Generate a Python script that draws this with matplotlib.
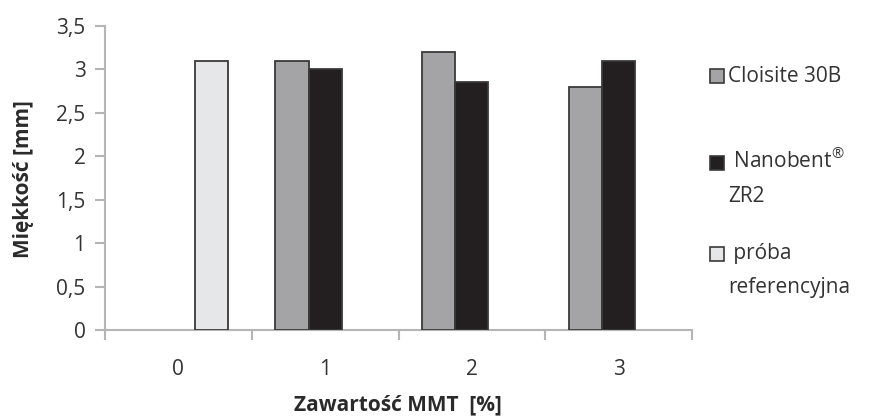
import numpy as np
import matplotlib
matplotlib.use("Agg")
import matplotlib.pyplot as plt
from matplotlib.patches import Rectangle

plt.rcParams['font.family'] = ['Open Sans', 'DejaVu Sans']
plt.rcParams['mathtext.fontset'] = 'custom'
plt.rcParams['mathtext.rm'] = 'Open Sans'

# data
categories = ["0", "1", "2", "3"]
cloisite = [np.nan, 3.1, 3.2, 2.8]
nanobent = [np.nan, 3.0, 2.85, 3.1]
referencja = [3.1, np.nan, np.nan, np.nan]

series_names = ["Cloisite 30B", " Nanobent$^{\\mathrm{®}}$\nZR2", " próba\nreferencyjna"]
colors = ["#a4a4a7", "#231f20", "#e6e7e8"]

fig = plt.figure(figsize=(8.7, 4.17), dpi=100)
ax = fig.add_axes([105/870, 87/417, 587/870, 304/417])

x = np.arange(len(categories))
w = 0.226
for i, vals in enumerate([cloisite, nanobent, referencja]):
    ax.bar(x + (i - 1) * w, vals, width=w, color=colors[i],
           edgecolor="#3a3a3a", linewidth=1.3, zorder=3)

ax.set_xlim(-0.5, len(categories) - 0.5)
ax.set_ylim(0, 3.5)
ax.set_yticks(np.arange(0, 3.51, 0.5))
ax.set_yticklabels(["0", "0,5", "1", "1,5", "2", "2,5", "3", "3,5"])
ax.set_xticks(x)
ax.set_xticklabels(categories)
ax.set_xticks(np.arange(-0.5, len(categories)), minor=True)

gray = "#b5b5b5"
fs = 15
for s in ["top", "right"]:
    ax.spines[s].set_visible(False)
for s in ["left", "bottom"]:
    ax.spines[s].set_color(gray)
    ax.spines[s].set_linewidth(1.5)
ax.tick_params(axis="y", length=7, width=1.5, color=gray, pad=7,
               labelsize=fs, labelcolor="#333333")
ax.tick_params(axis="x", which="major", length=0, pad=21,
               labelsize=fs, labelcolor="#333333")
ax.tick_params(axis="x", which="minor", length=7, width=1.5, color=gray)

fig.text(24/870, 1 - 179/417, "Miękkość [mm]", rotation=90, ha="center",
         va="center", fontsize=fs, fontweight="bold", color="#2a2a2a")
fig.text(398/870, 1 - 405/417, "Zawartość MMT  [%]", ha="center",
         va="center", fontsize=fs, fontweight="bold", color="#2a2a2a")

# legend drawn by hand so the square sits by the first line
leg_y = [76, 163, 254]
for i, name in enumerate(series_names):
    yc = leg_y[i]
    fig.add_artist(Rectangle((710/870, 1 - (yc + 7)/417), 14/870, 14/417,
                             transform=fig.transFigure, facecolor=colors[i],
                             edgecolor="#3a3a3a", linewidth=1.2))
    for j, line in enumerate(name.split("\n")):
        fig.text(728/870, 1 - (yc + j * 34)/417, line, ha="left",
                 va="baseline", fontsize=fs, color="#333333",
                 transform=fig.transFigure + matplotlib.transforms.ScaledTranslation(0, -5.5/100, fig.dpi_scale_trans))

fig.savefig("out.png", dpi=100)
